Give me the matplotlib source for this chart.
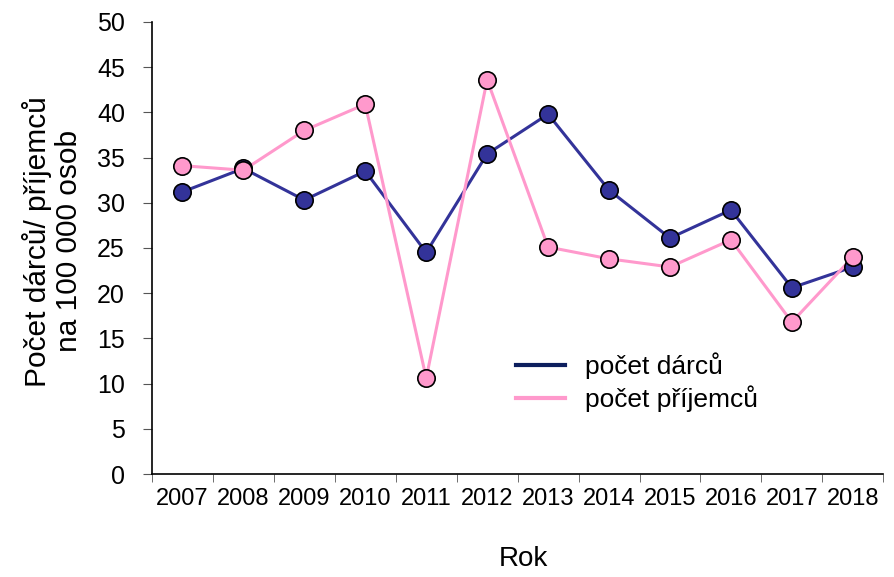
import numpy as np
import matplotlib
matplotlib.use('Agg')
import matplotlib.pyplot as plt

plt.rcParams['font.family'] = ['Liberation Sans', 'DejaVu Sans']

years = ['2007', '2008', '2009', '2010', '2011', '2012',
         '2013', '2014', '2015', '2016', '2017', '2018']
darci = [31.2, 33.8, 30.3, 33.5, 24.5, 35.4, 39.8, 31.4, 26.1, 29.2, 20.6, 22.9]
prijemci = [34.1, 33.6, 38.0, 40.9, 10.6, 43.6, 25.1, 23.8, 22.9, 25.9, 16.8, 24.0]

fig = plt.figure(figsize=(8.94, 5.77), dpi=100)
ax = fig.add_axes([0.170, 0.1785, 0.818, 0.7835])

x = np.arange(len(years))
ax.plot(x, darci, color='#333399', lw=2.2, zorder=3)
ax.plot(x, prijemci, color='#FF99CC', lw=2.2, zorder=3)
ax.plot(x, darci, 'o', ms=12.5, mfc='#333399', mec='black', mew=1.2, zorder=4)
ax.plot(x, prijemci, 'o', ms=12.5, mfc='#FF99CC', mec='black', mew=1.2, zorder=5)

# legend handles only lines
h1, = ax.plot([], [], color='#0d1f5e', lw=3)
h2, = ax.plot([], [], color='#FF99CC', lw=3)
ax.legend([h1, h2], ['počet dárců', 'počet příjemců'], frameon=False,
          fontsize=19, loc='center left', bbox_to_anchor=(0.498, 0.2025),
          borderpad=0, borderaxespad=0,
          handlelength=1.85, handletextpad=0.75, labelspacing=0.25)

ax.set_xlim(-0.5, len(years) - 0.5)
ax.set_ylim(0, 50)
ax.set_yticks(np.arange(0, 51, 5))
ax.set_xticks(x)
ax.set_xticklabels(years, fontsize=17)
ax.set_xticks(np.arange(-0.5, len(years), 1), minor=True)
ax.tick_params(axis='x', which='major', length=0, pad=10)
ax.tick_params(axis='x', which='minor', length=6, color='#555555')
ax.tick_params(axis='y', labelsize=18, length=6.5, color='#555555', pad=13)

for s in ['top', 'right']:
    ax.spines[s].set_visible(False)
ax.spines['left'].set_linewidth(1.2)
ax.spines['bottom'].set_linewidth(1.2)

ax.set_ylabel('Počet dárců/ příjemců\nna 100 000 osob', fontsize=21.5,
              linespacing=1.15)
ax.yaxis.set_label_coords(-0.094, 0.515)
ax.set_xlabel('Rok', fontsize=20)
ax.xaxis.set_label_coords(0.5075, -0.16)

fig.savefig('out.png', dpi=100)
